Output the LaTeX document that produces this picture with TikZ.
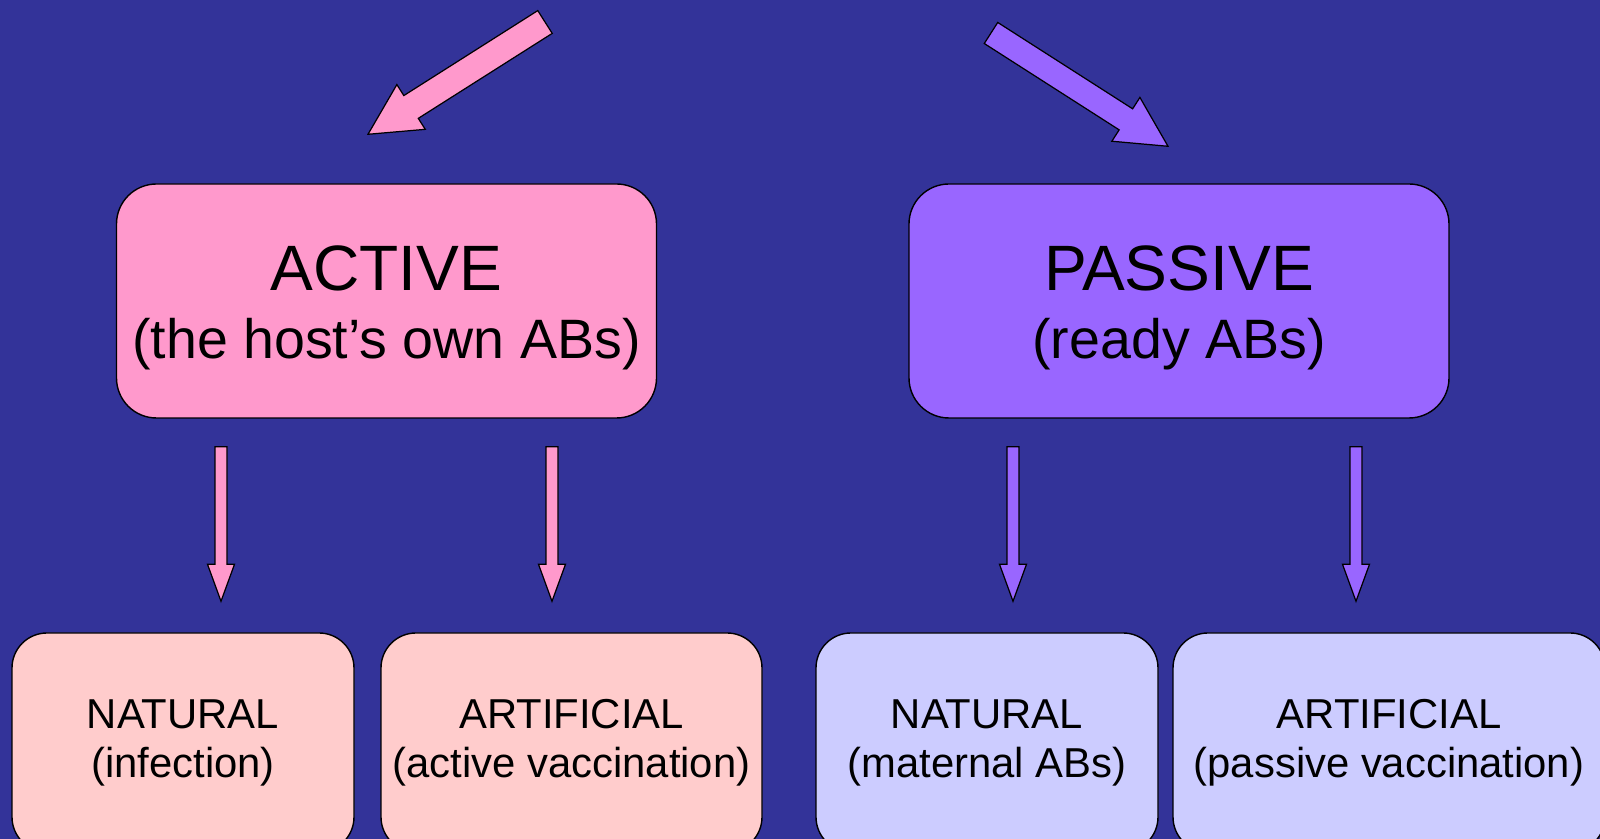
\documentclass[tikz,border=0pt]{standalone}
\usepackage{fontspec}
\setmainfont{Liberation Sans}
\usetikzlibrary{positioning, calc}

\definecolor{slideblue}{HTML}{333399}
\definecolor{activepink}{HTML}{FF99CC}
\definecolor{passiveviolet}{HTML}{9966FF}
\definecolor{lightpink}{HTML}{FFCCCC}
\definecolor{lightviolet}{HTML}{CCCCFF}

% outlined block arrow: fill, tail, tip, half shaft width, half head width, head length
\newcommand{\blockarrow}[6]{%
  \path ($(#3)!#6!(#2)$) coordinate (headbase);
  \draw[fill=#1, draw=black, line width=0.7pt, line join=miter]
    ($(#2)!#4!90:(#3)$) -- ($(headbase)!#4!90:(#3)$) -- ($(headbase)!#5!90:(#3)$)
    -- (#3) -- ($(headbase)!#5!-90:(#3)$) -- ($(headbase)!#4!-90:(#3)$)
    -- ($(#2)!#4!-90:(#3)$) -- cycle;
}

\begin{document}
\begin{tikzpicture}[
  topbox/.style={draw=black, line width=0.8pt, rounded corners=0.8cm, align=center,
    minimum width=10.8cm, minimum height=4.68cm, inner sep=0pt,
    font=\fontsize{31.6}{38.7}\selectfont},
  subbox/.style={draw=black, line width=0.8pt, rounded corners=0.7cm, align=center,
    minimum height=4.38cm, inner sep=0pt, font=\fontsize{23.8}{27.9}\selectfont}
]

% slide background
\useasboundingbox (0,0) rectangle (32,16.78);
\fill[slideblue] (0,0) rectangle (32,16.78);

% --- the two kinds of immunity ---
\node[topbox, fill=activepink] (active) at (7.73,10.76)
  {\rule{0pt}{1.18cm}{\fontsize{36.5}{38.7}\selectfont ACTIVE}\\(the host’s own ABs)};
\node[topbox, fill=passiveviolet] (passive) at (23.58,10.76)
  {\rule{0pt}{1.18cm}{\fontsize{36.5}{38.7}\selectfont PASSIVE}\\(ready ABs)};

% --- natural / artificial below each ---
\node[subbox, fill=lightpink, minimum width=6.84cm] (actnat) at (3.66,1.93)
  {NATURAL\\(infection)};
\node[subbox, fill=lightpink, minimum width=7.62cm] (actart) at (11.43,1.93)
  {ARTIFICIAL\\(active vaccination)};
\node[subbox, fill=lightviolet, minimum width=6.84cm] (pasnat) at (19.74,1.93)
  {NATURAL\\(maternal ABs)};
\node[subbox, fill=lightviolet, minimum width=8.64cm] (pasart) at (27.78,1.93)
  {ARTIFICIAL\\(passive vaccination)};

% big arrows coming down from the title
\coordinate (acttail) at (10.9,16.34);
\coordinate (acttip) at ($(active.north)+(-0.37,0.98)$);
\coordinate (pastail) at (19.82,16.12);
\coordinate (pastip) at ($(passive.north)+(-0.22,0.74)$);
\blockarrow{activepink}{acttail}{acttip}{0.27cm}{0.53cm}{1.02cm}
\blockarrow{passiveviolet}{pastail}{pastip}{0.25cm}{0.52cm}{1.0cm}

% small arrows into the lower boxes
\coordinate (a1) at ($(active.south)+(-3.31,-0.56)$);
\coordinate (a2) at ($(active.south)+(3.31,-0.56)$);
\coordinate (p1) at ($(passive.south)+(-3.32,-0.56)$);
\coordinate (p2) at ($(passive.south)+(3.54,-0.56)$);
\coordinate (a1e) at ($(a1 |- actnat.north)+(0,0.62)$);
\coordinate (a2e) at ($(a2 |- actart.north)+(0,0.62)$);
\coordinate (p1e) at ($(p1 |- pasnat.north)+(0,0.62)$);
\coordinate (p2e) at ($(p2 |- pasart.north)+(0,0.62)$);
\blockarrow{activepink}{a1}{a1e}{0.12cm}{0.27cm}{0.74cm}
\blockarrow{activepink}{a2}{a2e}{0.12cm}{0.27cm}{0.74cm}
\blockarrow{passiveviolet}{p1}{p1e}{0.12cm}{0.27cm}{0.74cm}
\blockarrow{passiveviolet}{p2}{p2e}{0.12cm}{0.27cm}{0.74cm}

\end{tikzpicture}
\end{document}
